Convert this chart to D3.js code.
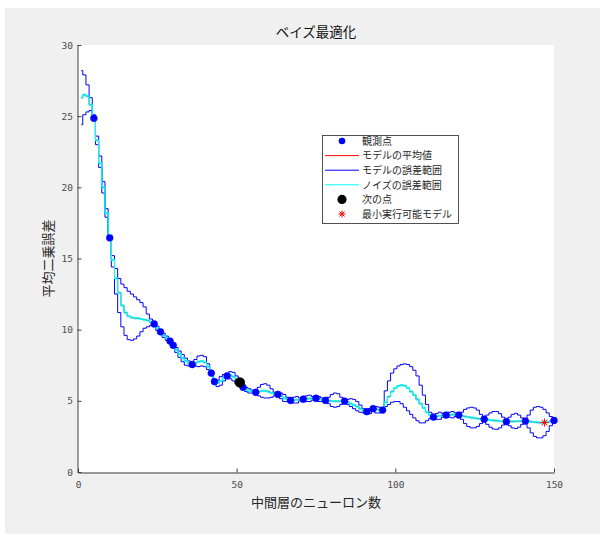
<!DOCTYPE html>
<html>
<head>
<meta charset="utf-8">
<script src="https://cdn.jsdelivr.net/npm/d3@7"></script>
<style>
  html, body { margin: 0; padding: 0; background: #fff; }
  svg { display: block; }
  .tick text { font-family: "DejaVu Sans Mono", monospace; font-size: 9.5px; fill: #4d4d4d; }
  .axis path, .axis line { stroke: #404040; }
  .jp { font-family: "Noto Sans CJK JP", "Noto Sans", sans-serif; fill: #262626; }
</style>
</head>
<body>
<div id="chart"></div>
<script>
// Bayesian optimisation objective model, one integer variable (1..150).
const gridStart = 1;

const meanVals = [
  26.3, 26.5, 26.4, 25.8, 24.85, 23.3, 21.7, 20.0, 18.2, 16.45,
  14.9, 13.6, 12.6, 11.7, 11.2, 10.95, 10.85, 10.8, 10.8, 10.75,
  10.7, 10.65, 10.55, 10.4, 10.1, 9.85, 9.6, 9.4, 9.2, 8.9,
  8.6, 8.3, 8.0, 7.8, 7.65, 7.55, 7.65, 7.75, 7.8, 7.7,
  7.4, 6.95, 6.35, 6.25, 6.4, 6.6, 6.75, 6.8, 6.7, 6.5,
  6.3, 5.95, 5.8, 5.7, 5.65, 5.6, 5.65, 5.7, 5.7, 5.65,
  5.55, 5.5, 5.45, 5.35, 5.2, 5.1, 5.03, 5.05, 5.08, 5.1,
  5.12, 5.15, 5.16, 5.17, 5.18, 5.12, 5.07, 5.03, 5.0, 4.98,
  4.97, 4.97, 4.98, 4.98, 4.9, 4.8, 4.7, 4.6, 4.45, 4.32,
  4.24, 4.3, 4.45, 4.4, 4.37, 4.35, 4.9, 5.3, 5.65, 5.9,
  6.05, 6.1, 6.05, 5.9, 5.65, 5.4, 5.1, 4.8, 4.5, 4.2,
  4.0, 3.86, 3.9, 3.95, 3.98, 4.0, 4.02, 4.03, 4.02, 4.0,
  3.95, 3.9, 3.86, 3.82, 3.78, 3.75, 3.73, 3.71, 3.68, 3.65,
  3.62, 3.6, 3.58, 3.56, 3.54, 3.55, 3.55, 3.56, 3.57, 3.58,
  3.58, 3.56, 3.53, 3.5, 3.48, 3.47, 3.47, 3.5, 3.56, 3.62
];
const upperVals = [
  28.2, 27.9, 27.2, 26.3, 25.1, 23.6, 22.2, 20.4, 18.5, 16.6,
  15.2, 14.3, 13.6, 13.2, 12.95, 12.7, 12.5, 12.3, 12.1, 11.9,
  11.6, 11.1, 10.75, 10.45, 10.25, 9.9, 9.75, 9.55, 9.25, 8.95,
  8.75, 8.5, 8.25, 8.0, 7.8, 7.6, 7.9, 8.15, 8.2, 8.1,
  7.6, 7.0, 6.4, 6.45, 6.7, 6.85, 6.8, 7.05, 7.0, 6.75,
  6.5, 6.0, 5.95, 5.85, 5.75, 5.65, 5.95, 6.15, 6.2, 6.1,
  5.85, 5.6, 5.5, 5.55, 5.45, 5.25, 5.08, 5.25, 5.3, 5.2,
  5.17, 5.35, 5.4, 5.3, 5.23, 5.3, 5.2, 5.08, 5.25, 5.45,
  5.55, 5.5, 5.25, 5.03, 5.1, 5.15, 5.1, 4.95, 4.7, 4.45,
  4.29, 4.45, 4.5, 4.6, 4.55, 4.4, 5.7, 6.4, 6.95, 7.25,
  7.45, 7.55, 7.6, 7.55, 7.4, 7.15, 6.75, 6.1, 5.4, 4.75,
  4.2, 3.91, 4.1, 4.2, 4.12, 4.05, 4.2, 4.25, 4.15, 4.05,
  4.2, 4.4, 4.5, 4.55, 4.5, 4.35, 4.05, 3.76, 4.0, 4.15,
  4.25, 4.25, 4.1, 3.85, 3.59, 3.85, 4.05, 4.12, 4.0, 3.8,
  3.63, 4.0, 4.35, 4.55, 4.6, 4.55, 4.4, 4.15, 3.9, 3.67
];
const lowerVals = [
  24.4, 25.1, 25.3, 25.4, 24.7, 23.0, 21.4, 19.6, 17.9, 16.3,
  14.4, 12.5, 11.2, 10.2, 9.6, 9.3, 9.25, 9.35, 9.55, 9.85,
  10.1, 10.2, 10.3, 10.35, 9.95, 9.8, 9.45, 9.25, 9.15, 8.85,
  8.4, 8.05, 7.75, 7.5, 7.45, 7.5, 7.45, 7.4, 7.45, 7.4,
  7.2, 6.9, 6.3, 6.0, 6.1, 6.4, 6.7, 6.55, 6.4, 6.2,
  6.05, 5.9, 5.65, 5.55, 5.55, 5.55, 5.35, 5.25, 5.2, 5.2,
  5.25, 5.35, 5.4, 5.15, 4.95, 4.95, 4.98, 4.85, 4.85, 5.0,
  5.07, 4.95, 4.95, 5.05, 5.13, 4.95, 4.95, 4.98, 4.8, 4.6,
  4.55, 4.6, 4.75, 4.93, 4.75, 4.6, 4.45, 4.3, 4.2, 4.15,
  4.19, 4.1, 4.4, 4.15, 4.15, 4.3, 4.6, 4.75, 4.9, 4.95,
  4.95, 4.8, 4.55, 4.3, 4.05, 3.8, 3.6, 3.45, 3.45, 3.6,
  3.75, 3.81, 3.7, 3.7, 3.85, 3.95, 3.85, 3.8, 3.9, 3.95,
  3.7, 3.4, 3.2, 3.1, 3.1, 3.2, 3.4, 3.66, 3.35, 3.15,
  3.02, 3.0, 3.1, 3.3, 3.49, 3.25, 3.1, 3.05, 3.15, 3.35,
  3.53, 3.1, 2.75, 2.5, 2.4, 2.4, 2.55, 2.85, 3.25, 3.57
];
const noiseSd = 0.04;

const obsX = [5, 10, 24, 26, 29, 30, 36, 42, 43, 47, 52, 56, 63, 67, 71, 75, 78, 84, 91, 93, 96, 112, 116, 120, 128, 135, 141, 150];
const obsY = [24.85, 16.45, 10.4, 9.85, 9.2, 8.9, 7.55, 6.95, 6.35, 6.75, 5.95, 5.6, 5.45, 5.03, 5.12, 5.18, 5.03, 4.98, 4.24, 4.45, 4.35, 3.86, 4.0, 4.0, 3.71, 3.54, 3.58, 3.62];
const nextPoint = [51, 6.3];
const bestPoint = [147, 3.47];

const xTicks = [0, 50, 100, 150];
const yTicks = [0, 5, 10, 15, 20, 25, 30];
const legendLabels = ["観測点", "モデルの平均値", "モデルの誤差範囲", "ノイズの誤差範囲", "次の点", "最小実行可能モデル"];

const W = 606, H = 535;
const m = { left: 78, right: 554, top: 45, bottom: 472 };

const svg = d3.select("#chart").append("svg").attr("width", W).attr("height", H);
svg.append("rect").attr("x", 5).attr("y", 8).attr("width", 595).attr("height", 526).attr("fill", "#f0f0f0");
svg.append("rect").attr("x", m.left).attr("y", m.top)
  .attr("width", m.right - m.left).attr("height", m.bottom - m.top).attr("fill", "#fff");

const x = d3.scaleLinear([0, 150], [m.left, m.right]);
const y = d3.scaleLinear([0, 30], [m.bottom, m.top]);

const pts = (vals) => vals.map((v, i) => [gridStart + i, v]);
const step = d3.line().x((d) => x(d[0])).y((d) => y(d[1])).curve(d3.curveStep);

const plot = svg.append("g");
const drawLine = (vals, color) => plot.append("path").attr("d", step(pts(vals)))
  .attr("fill", "none").attr("stroke", color).attr("stroke-width", 1);

drawLine(meanVals, "#ff0000");
drawLine(upperVals, "#0000ff");
drawLine(lowerVals, "#0000ff");
drawLine(meanVals.map((v) => v + noiseSd), "#00ffff");
drawLine(meanVals.map((v) => v - noiseSd), "#00ffff");

plot.selectAll("circle.obs").data(obsX).join("circle")
  .attr("class", "obs")
  .attr("cx", (d) => x(d)).attr("cy", (d, i) => y(obsY[i]))
  .attr("r", 3.4).attr("fill", "#0000ff").attr("stroke", "#0000ff").attr("stroke-width", 0.6);

plot.append("circle").attr("cx", x(nextPoint[0])).attr("cy", y(nextPoint[1]))
  .attr("r", 5.2).attr("fill", "#000");

function star(g, cx, cy, r, color) {
  [0, 45, 90, 135].forEach((a) => {
    const t = a * Math.PI / 180;
    g.append("line")
      .attr("x1", cx - r * Math.cos(t)).attr("y1", cy - r * Math.sin(t))
      .attr("x2", cx + r * Math.cos(t)).attr("y2", cy + r * Math.sin(t))
      .attr("stroke", color).attr("stroke-width", 1);
  });
}
star(plot, x(bestPoint[0]), y(bestPoint[1]), 4, "#ff0000");

// Axes (ticks inward, no box)
svg.append("g").attr("class", "axis")
  .attr("transform", `translate(${m.left - 0.5},0)`)
  .call(d3.axisLeft(y).tickValues(yTicks).tickSizeInner(-4).tickSizeOuter(0).tickPadding(4.5));
svg.append("g").attr("class", "axis")
  .attr("transform", `translate(0,${m.bottom + 0.5})`)
  .call(d3.axisBottom(x).tickValues(xTicks).tickSizeInner(-4).tickSizeOuter(0).tickPadding(8.5));

svg.append("text").attr("class", "jp")
  .attr("x", (m.left + m.right) / 2).attr("y", 37).attr("text-anchor", "middle")
  .style("font-size", "13.5px").style("fill", "#111").text("ベイズ最適化");
svg.append("text").attr("class", "jp")
  .attr("x", (m.left + m.right) / 2).attr("y", 507).attr("text-anchor", "middle")
  .style("font-size", "13px").text("中間層のニューロン数");
svg.append("text").attr("class", "jp")
  .attr("transform", `translate(53,${(m.top + m.bottom) / 2}) rotate(-90)`)
  .attr("text-anchor", "middle")
  .style("font-size", "13px").text("平均二乗誤差");

// Legend
const lg = svg.append("g");
lg.append("rect").attr("x", 322.5).attr("y", 135.5).attr("width", 136).attr("height", 88)
  .attr("fill", "#fff").attr("stroke", "#262626").attr("stroke-width", 0.8);
const rowY = (i) => 141 + i * 14.6;
lg.selectAll("text").data(legendLabels).join("text")
  .attr("class", "jp").attr("x", 362).attr("y", (_, i) => rowY(i) + 3.8)
  .style("font-size", "10px").text((d) => d);
lg.append("circle").attr("cx", 342).attr("cy", rowY(0)).attr("r", 3.3).attr("fill", "#0000ff");
[["#ff0000", 1], ["#0000ff", 2], ["#00ffff", 3]].forEach(([c, i]) => {
  lg.append("line").attr("x1", 325).attr("x2", 359).attr("y1", rowY(i)).attr("y2", rowY(i))
    .attr("stroke", c).attr("stroke-width", 1);
});
lg.append("circle").attr("cx", 342).attr("cy", rowY(4)).attr("r", 4.6).attr("fill", "#000");
star(lg, 342, rowY(5), 3.5, "#ff0000");
</script>
</body>
</html>
